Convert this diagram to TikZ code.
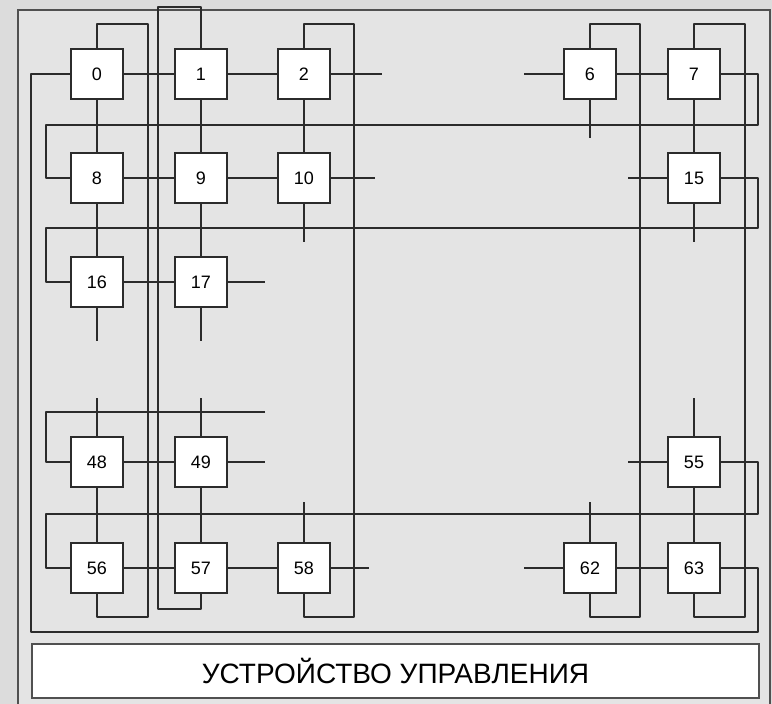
\documentclass[tikz,border=0pt]{standalone}
\usepackage{fontspec}
\setmainfont{Liberation Sans}
\definecolor{wire}{HTML}{2B2B2B}
\definecolor{panel}{HTML}{E4E4E4}
\definecolor{outside}{HTML}{DCDCDC}
\definecolor{frame}{HTML}{505050}
\begin{document}
\begin{tikzpicture}[x=1pt,y=-1pt,
  pe/.style={draw=wire,fill=white,line width=2pt,minimum width=52pt,minimum height=50pt,inner sep=0pt,font=\fontsize{18}{21}\selectfont},
  link/.style={draw=wire,line width=2pt,line join=round},
  ctrl/.style={draw=frame,fill=white,line width=2pt,inner sep=0pt,font=\fontsize{28}{32}\selectfont}]
\useasboundingbox (0,0) rectangle (772,704);
\fill[outside] (0,0) rectangle (772,704);
\draw[frame,fill=panel,line width=2pt] (18,10) rectangle (770,712);
% control unit
\node[ctrl,minimum width=727pt,minimum height=54pt] (cu) at (395.5,671) {УСТРОЙСТВО УПРАВЛЕНИЯ};
% processing elements
\node[pe] (n0)  at (97,74)  {0};
\node[pe] (n1)  at (201,74) {1};
\node[pe] (n2)  at (304,74) {2};
\node[pe] (n6)  at (590,74) {6};
\node[pe] (n7)  at (694,74) {7};
\node[pe] (n8)  at (97,178) {8};
\node[pe] (n9)  at (201,178){9};
\node[pe] (n10) at (304,178){10};
\node[pe] (n15) at (694,178){15};
\node[pe] (n16) at (97,282) {16};
\node[pe] (n17) at (201,282){17};
\node[pe] (n48) at (97,462) {48};
\node[pe] (n49) at (201,462){49};
\node[pe] (n55) at (694,462){55};
\node[pe] (n56) at (97,568) {56};
\node[pe] (n57) at (201,568){57};
\node[pe] (n58) at (304,568){58};
\node[pe] (n62) at (590,568){62};
\node[pe] (n63) at (694,568){63};
% free ends of cut links
\coordinate (s2e)  at (382,74);
\coordinate (s10e) at (375,178);
\coordinate (s10s) at (304,242);
\coordinate (s6w)  at (524,74);
\coordinate (s6s)  at (590,138);
\coordinate (s15w) at (628,178);
\coordinate (s15s) at (694,242);
\coordinate (s17e) at (265,282);
\coordinate (s16s) at (97,341);
\coordinate (s17s) at (201,341);
\coordinate (s48n) at (97,398);
\coordinate (s49n) at (201,398);
\coordinate (s49e) at (265,462);
\coordinate (s48w) at (265,412);
\coordinate (s55n) at (694,398);
\coordinate (s55w) at (628,462);
\coordinate (s58n) at (304,502);
\coordinate (s58e) at (369,568);
\coordinate (s62n) at (590,502);
\coordinate (s62w) at (524,568);
% column wrap-around links (i+56 -> i)
\draw[link] (n56.south) |- (148,617) |- (97,24) -- (n0.north);
\draw[link] (n57.south) |- (158,609) |- (201,7) -- (n1.north);
\draw[link] (n58.south) |- (354,617) |- (304,24) -- (n2.north);
\draw[link] (n62.south) |- (640,617) |- (590,24) -- (n6.north);
\draw[link] (n63.south) |- (745,617) |- (694,24) -- (n7.north);
% row wrap-around links
\draw[link] (n63.east) -| (758,632) -| (31,74) -- (n0.west);
\draw[link] (n7.east) -| (758,125) -| (46,178) -- (n8.west);
\draw[link] (n15.east) -| (758,228) -| (46,282) -- (n16.west);
\draw[link] (s48w) -| (46,462) -- (n48.west);
\draw[link] (n55.east) -| (758,514) -| (46,568) -- (n56.west);
% neighbour links
\draw[link] (n0) -- (n1);
\draw[link] (n1) -- (n2);
\draw[link] (n8) -- (n9);
\draw[link] (n9) -- (n10);
\draw[link] (n16) -- (n17);
\draw[link] (n48) -- (n49);
\draw[link] (n56) -- (n57);
\draw[link] (n57) -- (n58);
\draw[link] (n6) -- (n7);
\draw[link] (n62) -- (n63);
\draw[link] (n0) -- (n8);
\draw[link] (n8) -- (n16);
\draw[link] (n1) -- (n9);
\draw[link] (n9) -- (n17);
\draw[link] (n2) -- (n10);
\draw[link] (n7) -- (n15);
\draw[link] (n48) -- (n56);
\draw[link] (n49) -- (n57);
\draw[link] (n55) -- (n63);
% stubs
\draw[link] (n2.east) -- (s2e);
\draw[link] (n10.east) -- (s10e);
\draw[link] (n10.south) -- (s10s);
\draw[link] (s6w) -- (n6.west);
\draw[link] (n6.south) -- (s6s);
\draw[link] (s15w) -- (n15.west);
\draw[link] (n15.south) -- (s15s);
\draw[link] (n17.east) -- (s17e);
\draw[link] (n16.south) -- (s16s);
\draw[link] (n17.south) -- (s17s);
\draw[link] (s48n) -- (n48.north);
\draw[link] (s49n) -- (n49.north);
\draw[link] (n49.east) -- (s49e);
\draw[link] (s55n) -- (n55.north);
\draw[link] (s55w) -- (n55.west);
\draw[link] (s58n) -- (n58.north);
\draw[link] (n58.east) -- (s58e);
\draw[link] (s62n) -- (n62.north);
\draw[link] (s62w) -- (n62.west);
\end{tikzpicture}
\end{document}
